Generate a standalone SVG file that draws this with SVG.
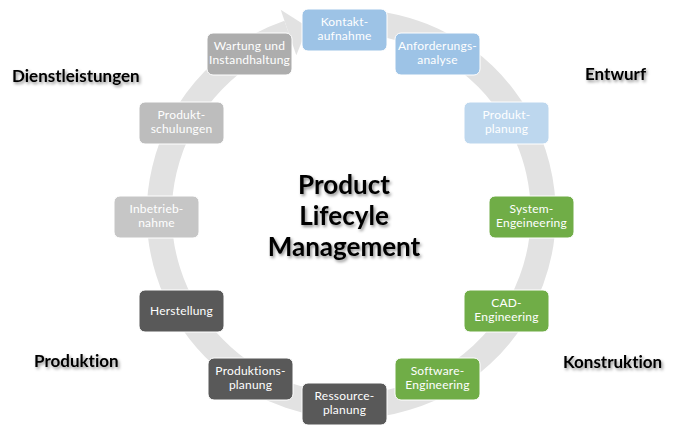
<svg xmlns="http://www.w3.org/2000/svg" width="678" height="430" viewBox="0 0 678 430">
  <defs>
    <filter id="shadow" x="-20%" y="-30%" width="140%" height="160%">
      <feDropShadow dx="1.5" dy="2" stdDeviation="1.8" flood-color="#000" flood-opacity="0.45"/>
    </filter>
  </defs>
  <style>
    text { font-variant-ligatures: none; font-feature-settings: "liga" 0, "clig" 0; }
    .node rect { stroke: #ffffff; stroke-width: 1; }
    .node text { font-family: Lato, "Open Sans", sans-serif; font-size: 12px; fill: #ffffff; text-anchor: middle; letter-spacing: 0.2px; }
    .blue rect { fill: #9dc3e6; }
    .lblue rect { fill: #bdd7ee; }
    .green rect { fill: #70ad47; }
    .dark rect { fill: #595959; }
    .g1 rect { fill: #adadad; }
    .g2 rect { fill: #bdbdbd; }
    .g3 rect { fill: #c6c6c6; }
    .label { font-family: Lato, "Liberation Sans", sans-serif; font-weight: bold; font-size: 17px; fill: #000000; filter: url(#shadow); }
    .title { font-family: Lato, "Liberation Sans", sans-serif; font-weight: bold; font-size: 26px; fill: #000000; text-anchor: middle; filter: url(#shadow); }
  </style>
  <rect width="678" height="430" fill="#ffffff"/>

  <g id="connectors">
    <path d="M 334.3 22.7 A 192 192 0 1 1 288.5 32.5" fill="none" stroke="#e2e2e2" stroke-width="25"/>
    <polygon points="280.7,9.8 307.8,26.9 296.3,55.2" fill="#e2e2e2"/>
  </g>

  <g id="title">
    <text class="title" x="344" y="194">Product</text>
    <text class="title" x="344" y="225">Lifecyle</text>
    <text class="title" x="344" y="256">Management</text>
  </g>

  <g id="labels">
    <text class="label" x="12" y="82">Dienstleistungen</text>
    <text class="label" x="585" y="80">Entwurf</text>
    <text class="label" x="34" y="367">Produktion</text>
    <text class="label" x="563" y="368">Konstruktion</text>
  </g>

  <g id="node-kontakt" class="node blue">
    <rect x="302" y="9" width="85" height="42" rx="6"/>
    <text x="344.5" y="26">Kontakt-</text>
    <text x="344.5" y="40">aufnahme</text>
  </g>
  <g id="node-anforderung" class="node blue">
    <rect x="395" y="33" width="85" height="42" rx="6"/>
    <text x="437.5" y="50">Anforderungs-</text>
    <text x="437.5" y="64">analyse</text>
  </g>
  <g id="node-produktplanung" class="node lblue">
    <rect x="464" y="102" width="85" height="42" rx="6"/>
    <text x="506.5" y="119">Produkt-</text>
    <text x="506.5" y="133">planung</text>
  </g>
  <g id="node-system" class="node green">
    <rect x="489" y="196" width="85" height="42" rx="6"/>
    <text x="531.5" y="213">System-</text>
    <text x="531.5" y="227">Engeineering</text>
  </g>
  <g id="node-cad" class="node green">
    <rect x="464" y="290" width="85" height="42" rx="6"/>
    <text x="506.5" y="307">CAD-</text>
    <text x="506.5" y="321">Engineering</text>
  </g>
  <g id="node-software" class="node green">
    <rect x="395" y="358" width="85" height="42" rx="6"/>
    <text x="437.5" y="375">Software-</text>
    <text x="437.5" y="389">Engineering</text>
  </g>
  <g id="node-ressource" class="node dark">
    <rect x="302" y="383" width="85" height="42" rx="6"/>
    <text x="344.5" y="400">Ressource-</text>
    <text x="344.5" y="414">planung</text>
  </g>
  <g id="node-produktionsplanung" class="node dark">
    <rect x="208" y="358" width="85" height="42" rx="6"/>
    <text x="250.5" y="375">Produktions-</text>
    <text x="250.5" y="389">planung</text>
  </g>
  <g id="node-herstellung" class="node dark">
    <rect x="139" y="290" width="85" height="42" rx="6"/>
    <text x="181.5" y="315">Herstellung</text>
  </g>
  <g id="node-inbetrieb" class="node g3">
    <rect x="114" y="196" width="85" height="42" rx="6"/>
    <text x="156.5" y="213">Inbetrieb-</text>
    <text x="156.5" y="227">nahme</text>
  </g>
  <g id="node-schulungen" class="node g2">
    <rect x="139" y="102" width="85" height="42" rx="6"/>
    <text x="181.5" y="119">Produkt-</text>
    <text x="181.5" y="133">schulungen</text>
  </g>
  <g id="node-wartung" class="node g1">
    <rect x="207" y="33" width="85" height="42" rx="6"/>
    <text x="249.5" y="50">Wartung und</text>
    <text x="249.5" y="64">Instandhaltung</text>
  </g>
</svg>
